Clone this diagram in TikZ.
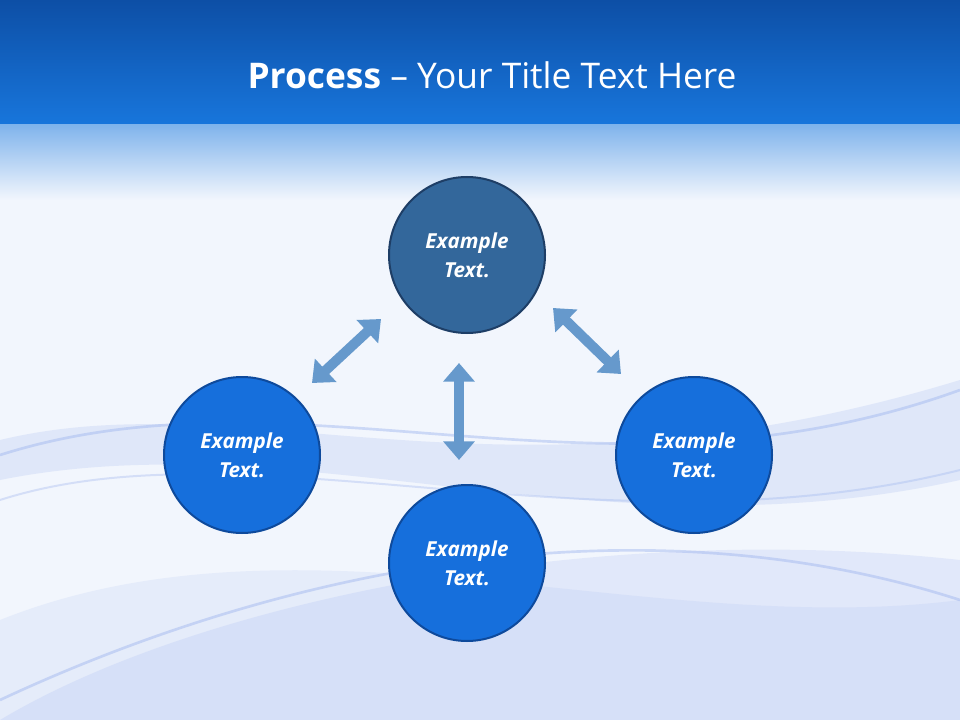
\documentclass[tikz,border=0pt]{standalone}
\usepackage{fontspec}
\setmainfont{Open Sans}
\usetikzlibrary{arrows.meta}
\definecolor{hdtop}{HTML}{0D4FA6}
\definecolor{hdbot}{HTML}{1876DC}
\definecolor{bgc}{HTML}{F2F6FD}
\definecolor{topc}{HTML}{33679B}
\definecolor{topb}{HTML}{1E3E66}
\definecolor{cfill}{HTML}{166FDC}
\definecolor{cbord}{HTML}{0E4A9C}
\definecolor{arr}{HTML}{6699CC}
\definecolor{wave}{HTML}{9DB4EE}
\tikzset{
  circ/.style={circle,minimum size=117pt,inner sep=0pt,line width=1.5pt,draw=cbord,fill=cfill,text=white,align=center,font=\fontsize{15.5}{22}\selectfont\bfseries\itshape},
  dbl/.style={arr,line width=7.5pt,{Triangle[width=23pt,length=14pt]}-{Triangle[width=23pt,length=14pt]}}
}
\begin{document}
\begin{tikzpicture}[x=0.75pt,y=-0.75pt]
\useasboundingbox (0,0) rectangle (960,720);
\fill[bgc] (0,0) rectangle (960,720);
% waves
\begin{scope}
\clip (0,0) rectangle (960,720);
\fill[wave,opacity=0.22] (0,440) .. controls (250,380) and (500,520) .. (960,380) -- (960,480) .. controls (600,560) and (300,420) .. (0,480) -- cycle;
\fill[wave,opacity=0.2] (0,720) .. controls (200,600) and (600,520) .. (960,560) -- (960,720) -- cycle;
\fill[wave,opacity=0.15] (0,620) .. controls (300,500) and (650,640) .. (960,600) -- (960,720) -- (0,720) -- cycle;
\draw[wave,line width=2pt,opacity=0.45] (0,455) .. controls (300,360) and (600,520) .. (960,390);
\draw[wave,line width=2pt,opacity=0.45] (0,700) .. controls (300,560) and (650,500) .. (960,600);
\draw[wave,line width=1.5pt,opacity=0.35] (0,500) .. controls (250,420) and (600,560) .. (960,470);
\end{scope}
% header
\shade[top color=hdtop,bottom color=hdbot] (0,0) rectangle (960,125);
\shade[top color=hdbot!55!white,bottom color=bgc] (0,125) rectangle (960,200);
\node (title) at (492,75) {\color{white}\fontsize{26.5}{30}\selectfont\textbf{Process} – Your Title Text Here};
% circles
\node[circ,fill=topc,draw=topb] (top) at (467,255) {Example\\Text.};
\node[circ] (left) at (242,455) {Example\\Text.};
\node[circ] (right) at (694,455) {Example\\Text.};
\node[circ] (bot) at (467,563) {Example\\Text.};
% arrows
\coordinate (a1) at (312,383); \coordinate (a2) at (381,319);
\coordinate (b1) at (553,308); \coordinate (b2) at (621,374);
\coordinate (c1) at (459,363); \coordinate (c2) at (459,460);
\draw[dbl] (a1) -- (a2);
\draw[dbl] (b1) -- (b2);
\draw[dbl] (c1) -- (c2);
\end{tikzpicture}
\end{document}
